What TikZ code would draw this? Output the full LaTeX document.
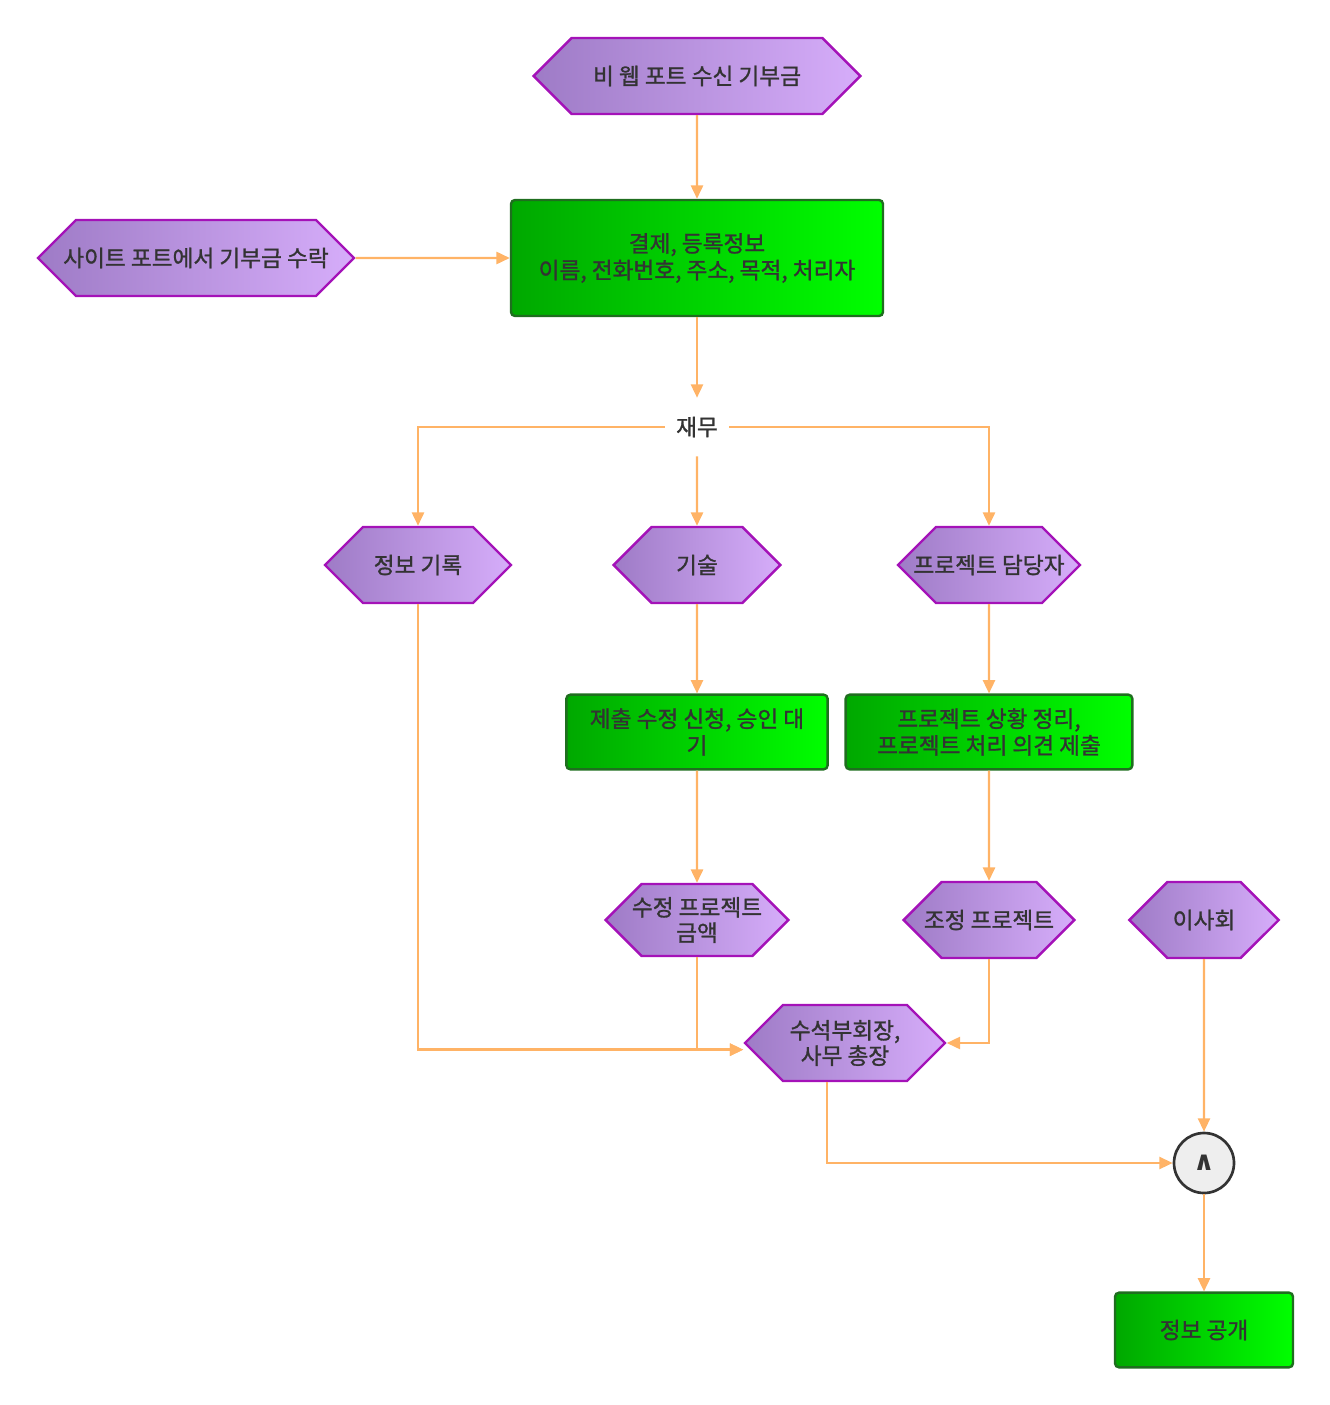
\documentclass[tikz,border=0pt]{standalone}
\usepackage{fontspec}
\setmainfont{Noto Sans CJK KR}[FakeBold=1.2]
\newfontfamily\dvfont{DejaVu Sans}
\usepackage{tikz}
\usetikzlibrary{arrows.meta,shapes.symbols}
\definecolor{hexL}{HTML}{9E7BC6}
\definecolor{hexR}{HTML}{D6ADFA}
\definecolor{hexB}{HTML}{A412B8}
\definecolor{grnL}{HTML}{00A800}
\definecolor{grnR}{HTML}{00FF00}
\definecolor{grnB}{HTML}{1F6E1F}
\definecolor{flowc}{HTML}{FFB366}
\definecolor{ink}{HTML}{333333}
\definecolor{gateF}{HTML}{EEEEEE}

\begin{document}
\begin{tikzpicture}[
  x=0.75pt,y=-0.75pt,
  hexa/.style={signal,signal to=west and east,draw=hexB,line width=1.8pt,left color=hexL,right color=hexR,minimum height=57pt,inner xsep=-18pt,align=center,text=ink,font=\fontsize{17}{19}\selectfont},
  proc/.style={draw=grnB,line width=1.8pt,rounded corners=3pt,left color=grnL,right color=grnR,minimum height=56pt,align=center,text=ink,font=\fontsize{17}{20}\selectfont},
  hub/.style={minimum width=48pt,minimum height=43.5pt,text=ink,font=\fontsize{17}{19}\selectfont},
  gate/.style={circle,draw=ink,line width=2pt,fill=gateF,minimum size=45pt,inner sep=0pt,text=ink,font=\dvfont\bfseries\fontsize{20}{20}\selectfont},
  flow/.style={-{Triangle[length=10pt,width=9pt]},line width=1.8pt,flowc}
]
\useasboundingbox (0,0) rectangle (1330,1405);
\node[hexa,minimum width=245pt] (n0) at (697,76) {비 웹 포트 수신 기부금};
\node[hexa,minimum width=237pt] (n1) at (196,258) {사이트 포트에서 기부금 수락};
\node[proc,minimum width=279pt,minimum height=87pt] (n2) at (697,258) {결제, 등록정보\\이름, 전화번호, 주소, 목적, 처리자};
\draw[flow] (n0) -- (n2);
\draw[flow] (n1) -- (n2);
\node[hub] (n3) at (697,427) {재무};
\draw[flow] (n2) -- (n3);
\node[hexa,minimum width=139.5pt] (n4) at (418,565) {정보 기록};
\node[hexa,minimum width=125pt] (n5) at (697,565) {기술};
\node[hexa,minimum width=136.5pt] (n6) at (989,565) {프로젝트 담당자};
\draw[flow] (n3.west) -| (n4);
\draw[flow] (n3) -- (n5);
\draw[flow] (n3.east) -| (n6);
\node[proc,minimum width=196pt] (n7) at (697,732) {제출 수정 신청, 승인 대\\기};
\node[proc,minimum width=215pt] (n8) at (989,732) {프로젝트 상황 정리,\\프로젝트 처리 의견 제출};
\draw[flow] (n5) -- (n7);
\draw[flow] (n6) -- (n8);
\node[hexa,minimum width=137pt,minimum height=54pt] (n9) at (697,920) {수정 프로젝트\\금액};
\node[hexa,minimum width=128pt] (n10) at (989,920) {조정 프로젝트};
\node[hexa,minimum width=112pt] (n11) at (1204,920) {이사회};
\draw[flow] (n7) -- (n9);
\draw[flow] (n8) -- (n10);
\node[hexa,minimum width=150pt] (n12) at (845,1043) {수석부회장,\\사무 총장};
\draw[flow] (n4) |- ([yshift=-5pt]n12.west);
\draw[flow] (n9) |- ([yshift=-5pt]n12.west);
\draw[flow] (n10) |- (n12);
\node[gate] (n13) at (1204,1163) {∧};
\draw[flow] (n11) -- (n13);
\draw[flow] ([xshift=-13.5pt]n12.south) |- (n13);
\node[proc,minimum width=133.5pt] (n14) at (1204,1330) {정보 공개};
\draw[flow] (n13) -- (n14);
\end{tikzpicture}
\end{document}
